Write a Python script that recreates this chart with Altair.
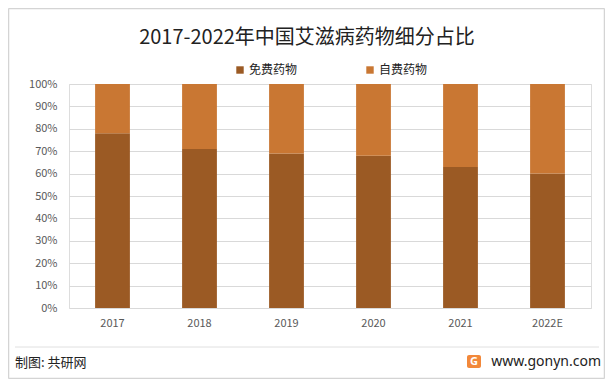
import altair as alt
import pandas as pd

years = ["2017", "2018", "2019", "2020", "2021", "2022E"]
free_share = [0.78, 0.71, 0.69, 0.68, 0.63, 0.60]
self_share = [round(1 - v, 2) for v in free_share]
series = ["免费药物", "自费药物"]
colors = ["#9B5A24", "#C97733"]
title_text = "2017-2022年中国艾滋病药物细分占比"
source_text = "制图: 共研网"
site_text = "www.gonyn.com"

rows = []
for y, a, b in zip(years, free_share, self_share):
    rows.append({"year": y, "type": series[0], "value": a, "ord": 0})
    rows.append({"year": y, "type": series[1], "value": b, "ord": 1})
df = pd.DataFrame(rows)

FONT = "Noto Sans CJK SC"
W, H = 522, 224

bars = alt.Chart(df).mark_bar().encode(
    x=alt.X("year:N", sort=years, title=None,
            scale=alt.Scale(paddingInner=0.6, paddingOuter=0.3),
            axis=alt.Axis(labelAngle=0, domain=False, ticks=False, labelPadding=9,
                          labelFontSize=11, labelColor="#595959", labelFont=FONT)),
    y=alt.Y("value:Q", stack="zero", title=None,
            scale=alt.Scale(domain=[0, 1], nice=False),
            axis=alt.Axis(format=".0%", values=[i / 10 for i in range(11)], domain=False,
                          ticks=False, labelPadding=12, labelFontSize=11,
                          labelColor="#595959", labelFont=FONT,
                          gridColor="#D9D9D9", gridWidth=1)),
    color=alt.Color("type:N", sort=series, title=None,
                    scale=alt.Scale(domain=series, range=colors),
                    legend=alt.Legend(orient="none", legendX=165, legendY=-20,
                                      direction="horizontal", symbolType="square",
                                      symbolSize=55, symbolStrokeWidth=0,
                                      labelFontSize=12, labelFont=FONT,
                                      labelColor="#222222", columnPadding=66,
                                      labelOffset=3)),
    order=alt.Order("ord:Q", sort="ascending"),
)

one = pd.DataFrame({"t": [title_text]})
title = alt.Chart(one).mark_text(fontSize=20, font=FONT, color="#222222",
                                 align="center", baseline="middle").encode(
    text="t:N", x=alt.value(238), y=alt.value(-46))

FR = "#D4D4D4"
L, R, T, B = -60.5, 535.5, -75.5, 294.5
fr_top = alt.Chart(one).mark_rule(color=FR, strokeWidth=1.5).encode(
    x=alt.value(L), x2=alt.value(R), y=alt.value(T))
fr_bot = alt.Chart(one).mark_rule(color=FR, strokeWidth=1.5).encode(
    x=alt.value(L), x2=alt.value(R), y=alt.value(B))
fr_left = alt.Chart(one).mark_rule(color=FR, strokeWidth=1.5).encode(
    x=alt.value(L), y=alt.value(T), y2=alt.value(B))
fr_right = alt.Chart(one).mark_rule(color=FR, strokeWidth=1.5).encode(
    x=alt.value(R), y=alt.value(T), y2=alt.value(B))

sep = alt.Chart(one).mark_rule(color="#E0E0E0", strokeWidth=1).encode(
    x=alt.value(-54), x2=alt.value(530), y=alt.value(263))

src = alt.Chart(pd.DataFrame({"t": [source_text]})).mark_text(
    fontSize=13, font=FONT, color="#222222", align="left", baseline="middle").encode(
    text="t:N", x=alt.value(-54), y=alt.value(279))

site = alt.Chart(pd.DataFrame({"t": [site_text]})).mark_text(
    fontSize=14, font="Noto Sans", color="#222222", align="right", baseline="middle").encode(
    text="t:N", x=alt.value(532), y=alt.value(278))

icon = alt.Chart(one).mark_rect(fill="#F2883A", cornerRadius=2).encode(
    x=alt.value(398), x2=alt.value(412), y=alt.value(271), y2=alt.value(284))
icon_g = alt.Chart(pd.DataFrame({"t": ["G"]})).mark_text(
    fontSize=11, fontWeight="bold", font="Noto Sans", color="white",
    align="center", baseline="middle").encode(
    text="t:N", x=alt.value(405), y=alt.value(278))

chart = alt.layer(fr_top, fr_bot, fr_left, fr_right, bars, title, sep, src, site,
                  icon, icon_g).properties(
    width=W, height=H,
    autosize=alt.AutoSizeParams(type="none"),
    padding={"left": 61, "top": 76, "right": 14, "bottom": 71},
).configure_view(stroke=None).configure(background="white")

chart.save("out.html", embed_options={"renderer": "svg", "actions": False})
